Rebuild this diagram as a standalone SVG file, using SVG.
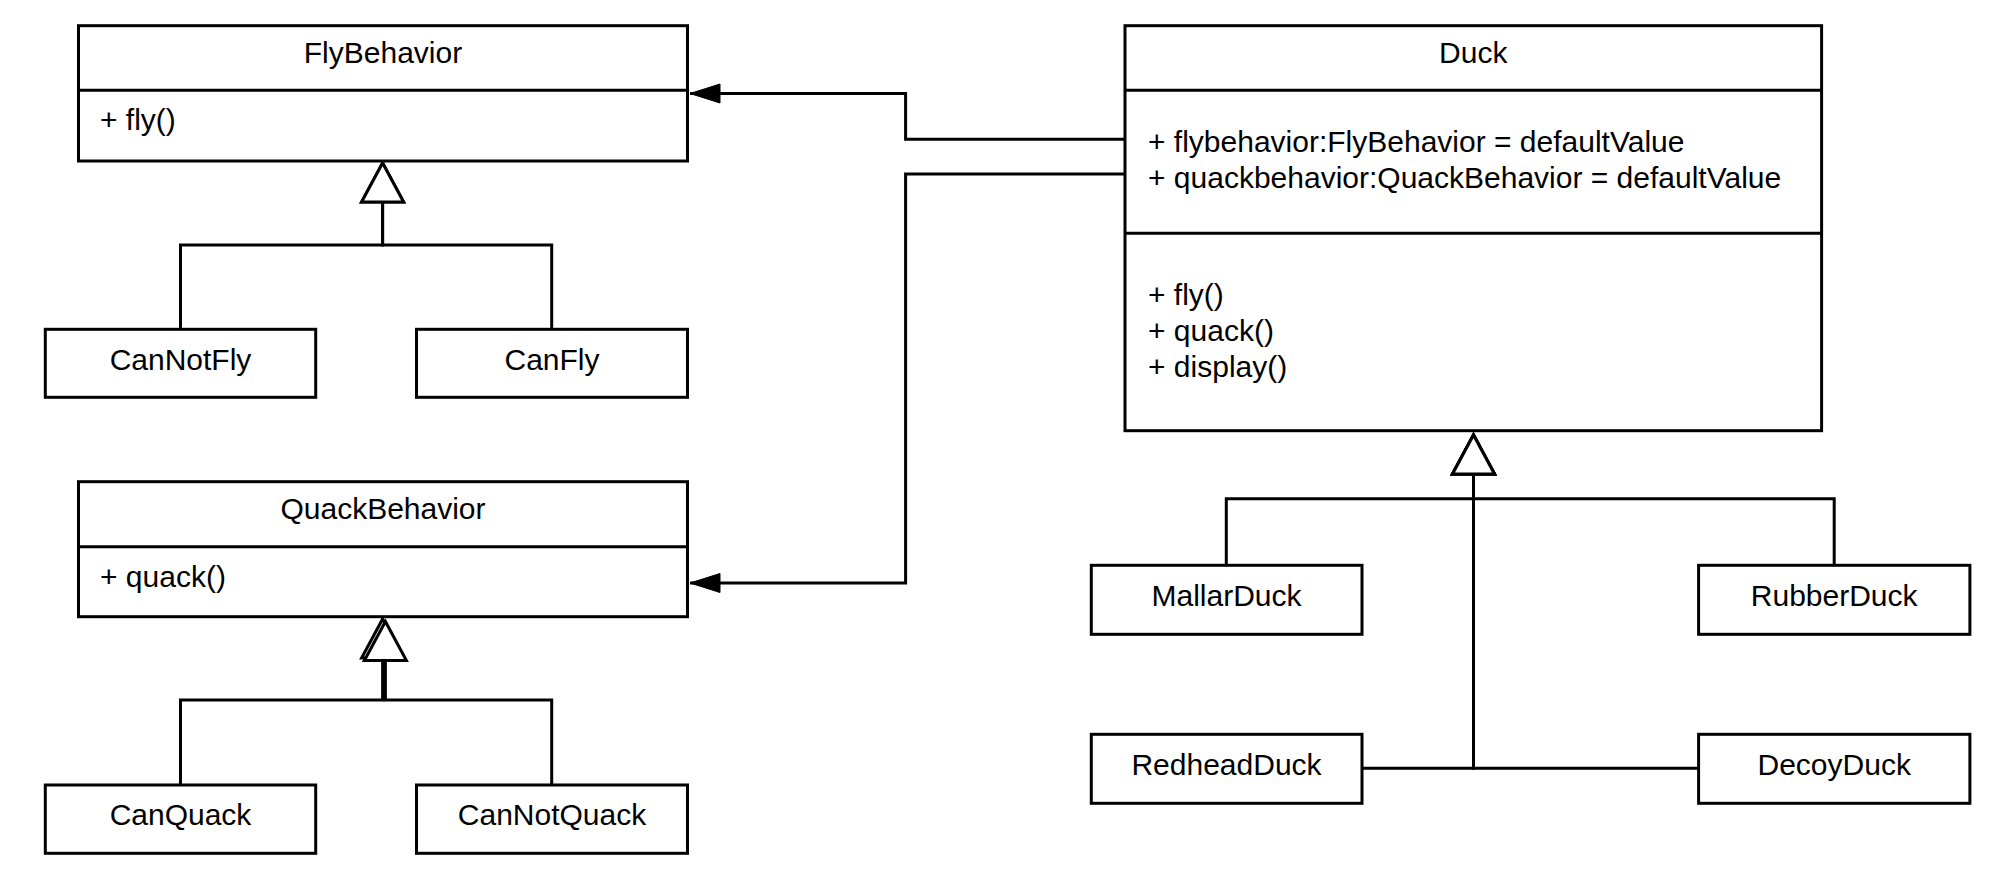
<svg xmlns="http://www.w3.org/2000/svg" width="1994" height="875" viewBox="0 0 1994 875">
<style>
  .box { fill: #ffffff; stroke: #000000; stroke-width: 3; }
  .div { stroke: #000000; stroke-width: 3; fill: none; }
  .edge { fill: none; stroke: #000000; stroke-width: 3; }
  .t { font-family: "Liberation Sans", Arial, sans-serif; font-size: 30px; fill: #000000; }
  .c { text-anchor: middle; }
</style>
<defs>
  <marker id="gen" markerUnits="userSpaceOnUse" viewBox="-42 -24 46 48" refX="0" refY="0" markerWidth="46" markerHeight="48" orient="auto">
    <path d="M0,0 L-39,-21 L-39,21 Z" fill="#ffffff" stroke="#000000" stroke-width="3"/>
  </marker>
  <marker id="arr" markerUnits="userSpaceOnUse" viewBox="-31 -12 33 24" refX="0" refY="0" markerWidth="33" markerHeight="24" orient="auto">
    <path d="M0,0 L-30,-9.5 L-30,9.5 Z" fill="#000000" stroke="#000000" stroke-width="1"/>
  </marker>
</defs>
<rect width="1994" height="875" fill="#ffffff"/>

<g id="connectors">
  <path class="edge" d="M1125,139.3 H905.6 V93.5 H690" marker-end="url(#arr)"/>
  <path class="edge" d="M1125,174 H905.6 V583 H690" marker-end="url(#arr)"/>
  <path class="edge" d="M180.5,329.3 V245 H382.6 V163" marker-end="url(#gen)"/>
  <path class="edge" d="M551.7,329.3 V245 H382.6 V163" marker-end="url(#gen)"/>
  <path class="edge" d="M180.5,785 V700 H382.6 V619" marker-end="url(#gen)"/>
  <path class="edge" d="M551.7,785 V700 H385.4 V621.5" marker-end="url(#gen)"/>
  <path class="edge" d="M1226.3,565.3 V498.7 H1473.5 V435" marker-end="url(#gen)"/>
  <path class="edge" d="M1834.2,565.3 V498.7 H1473.5 V435" marker-end="url(#gen)"/>
  <path class="edge" d="M1362,768.3 H1473.5 V435" marker-end="url(#gen)"/>
  <path class="edge" d="M1698.6,768.3 H1473.5 V435" marker-end="url(#gen)"/>
</g>

<g id="FlyBehavior">
  <rect class="box" x="78.5" y="25.7" width="609" height="135.3"/>
  <line class="div" x1="78.5" y1="90.3" x2="687.5" y2="90.3"/>
  <text class="t c" x="383" y="63">FlyBehavior</text>
  <text class="t" x="100" y="130">+ fly()</text>
</g>

<g id="CanNotFly">
  <rect class="box" x="45.3" y="329.3" width="270.4" height="68"/>
  <text class="t c" x="180.5" y="370">CanNotFly</text>
</g>

<g id="CanFly">
  <rect class="box" x="416.5" y="329.3" width="271" height="68"/>
  <text class="t c" x="552" y="370">CanFly</text>
</g>

<g id="QuackBehavior">
  <rect class="box" x="78.5" y="481.7" width="609" height="135"/>
  <line class="div" x1="78.5" y1="546.7" x2="687.5" y2="546.7"/>
  <text class="t c" x="383" y="519">QuackBehavior</text>
  <text class="t" x="100" y="587">+ quack()</text>
</g>

<g id="CanQuack">
  <rect class="box" x="45.3" y="785" width="270.4" height="68.3"/>
  <text class="t c" x="180.5" y="825">CanQuack</text>
</g>

<g id="CanNotQuack">
  <rect class="box" x="416.5" y="785" width="271" height="68.3"/>
  <text class="t c" x="552" y="825">CanNotQuack</text>
</g>

<g id="Duck">
  <rect class="box" x="1125" y="25.7" width="696.6" height="405"/>
  <line class="div" x1="1125" y1="90.3" x2="1821.6" y2="90.3"/>
  <line class="div" x1="1125" y1="233.3" x2="1821.6" y2="233.3"/>
  <text class="t c" x="1473.3" y="63">Duck</text>
  <text class="t" x="1148" y="151.5">+ flybehavior:FlyBehavior = defaultValue</text>
  <text class="t" x="1148" y="187.5">+ quackbehavior:QuackBehavior = defaultValue</text>
  <text class="t" x="1148" y="304.5">+ fly()</text>
  <text class="t" x="1148" y="340.5">+ quack()</text>
  <text class="t" x="1148" y="376.5">+ display()</text>
</g>

<g id="MallarDuck">
  <rect class="box" x="1091.3" y="565.3" width="270.7" height="69"/>
  <text class="t c" x="1226.5" y="605.5">MallarDuck</text>
</g>

<g id="RubberDuck">
  <rect class="box" x="1698.6" y="565.3" width="271.3" height="69"/>
  <text class="t c" x="1834.2" y="605.5">RubberDuck</text>
</g>

<g id="RedheadDuck">
  <rect class="box" x="1091.3" y="734.3" width="270.7" height="69"/>
  <text class="t c" x="1226.5" y="774.5">RedheadDuck</text>
</g>

<g id="DecoyDuck">
  <rect class="box" x="1698.6" y="734.3" width="271.3" height="69"/>
  <text class="t c" x="1834.2" y="774.5">DecoyDuck</text>
</g>
</svg>
